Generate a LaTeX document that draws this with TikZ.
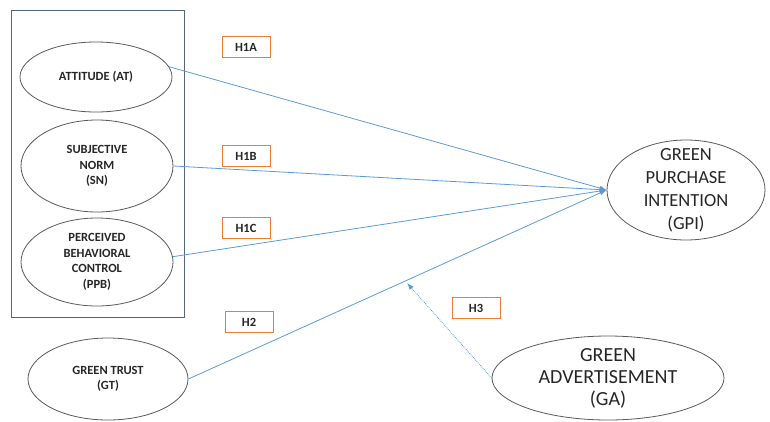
\documentclass[tikz,border=0pt]{standalone}
\usepackage{fontspec}
\setmainfont{Carlito}
\usetikzlibrary{shapes.geometric,arrows.meta}
\definecolor{linkblue}{RGB}{91,155,213}
\definecolor{hypo}{RGB}{237,125,49}
\definecolor{framegray}{RGB}{84,100,124}
\tikzset{
  construct/.style={draw=black!65, line width=0.8pt, ellipse, inner sep=-4pt, align=center,
    text=black!85, font=\fontsize{12.5}{15.5}\selectfont\bfseries},
  outcome/.style={draw=black!65, line width=0.8pt, ellipse, inner sep=-10pt, align=center,
    text=black!85, font=\fontsize{18.5}{23}\selectfont},
  hyp/.style={draw=hypo, line width=0.9pt, minimum width=48pt, minimum height=21pt,
    inner sep=0pt, text=black!85, font=\fontsize{12.5}{13}\selectfont\bfseries},
  link/.style={draw=linkblue, line width=0.8pt, -{Latex[length=7pt,width=5pt]}}
}
\begin{document}
\begin{tikzpicture}[x=1pt,y=-1pt]
\useasboundingbox (0,0) rectangle (770,421);
\draw[framegray, line width=0.8pt] (11,10) rectangle (184,317);
\node[construct, minimum width=152pt, minimum height=70pt] (at) at (96,77) {ATTITUDE (AT)};
\node[construct, minimum width=152pt, minimum height=92pt] (sn) at (97,166) {SUBJECTIVE\\NORM\\(SN)};
\node[construct, minimum width=152pt, minimum height=88pt] (ppb) at (97,262) {PERCEIVED\\BEHAVIORAL\\CONTROL\\(PPB)};
\node[construct, minimum width=160pt, minimum height=82pt] (gt) at (108,379) {GREEN TRUST\\(GT)};
\node[outcome, minimum width=158pt, minimum height=100pt] (gpi) at (686,190) {GREEN\\PURCHASE\\INTENTION\\(GPI)};
\node[outcome, minimum width=232pt, minimum height=84pt, font=\fontsize{20}{22}\selectfont] (ga) at (608,378) {GREEN\\ADVERTISEMENT\\(GA)};
\node[hyp] (h1a) at (246,47) {H1A};
\node[hyp] (h1b) at (246,156) {H1B};
\node[hyp] (h1c) at (246,228) {H1C};
\node[hyp] (h2) at (249,322) {H2};
\node[hyp] (h3) at (476,308) {H3};
\coordinate (tip) at (407,283);
\draw[link] (at.8) -- (gpi.west);
\draw[link] (sn.east) -- (gpi.west);
\draw[link] (ppb.4) -- (gpi.west);
\draw[link] (gt.east) -- (gpi.west);
\draw[link, densely dotted] (ga.west) -- (tip);
\end{tikzpicture}
\end{document}
